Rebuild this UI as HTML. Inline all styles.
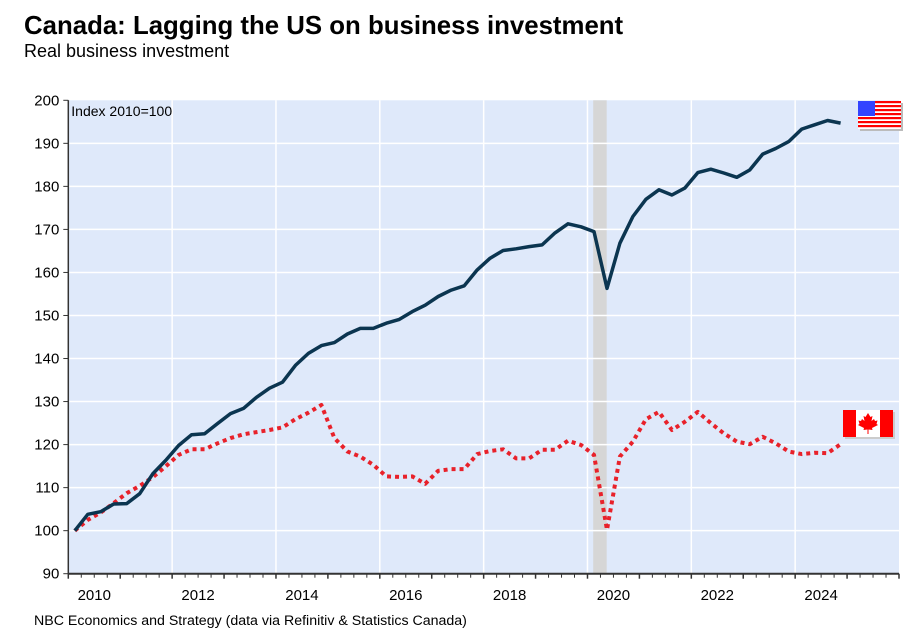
<!DOCTYPE html>
<html><head><meta charset="utf-8">
<style>
body{margin:0;background:#fff;font-family:"Liberation Sans",Arial,sans-serif;}
svg{display:block}
</style></head>
<body>
<svg id="chart" width="912" height="635" xmlns="http://www.w3.org/2000/svg">
<text x="24" y="34" font-size="25.8" font-weight="bold" fill="#000">Canada: Lagging the US on business investment</text>
<text x="24" y="57" font-size="18" fill="#000">Real business investment</text>
<text x="34" y="625" font-size="14.2" fill="#000">NBC Economics and Strategy (data via Refinitiv &amp; Statistics Canada)</text>
<g id="plot"></g>
</svg>
<script>
const usValues=[100,103.8,104.4,106.2,106.3,108.6,113.2,116.3,119.8,122.3,122.5,124.9,127.2,128.4,131,133.1,134.5,138.4,141.2,143,143.7,145.7,147,147,148.2,149.1,150.9,152.4,154.4,155.9,156.9,160.6,163.3,165.1,165.5,166,166.4,169.2,171.3,170.6,169.5,156.3,166.8,173,177,179.2,178,179.6,183.2,184,183.1,182.1,183.8,187.5,188.8,190.4,193.3,194.3,195.3,194.7];
const caValues=[100,102.5,104.2,106.4,108.7,110.4,112.4,114.9,117.6,118.9,118.9,120.3,121.5,122.4,122.9,123.4,124,125.9,127.4,129.2,121.5,118.4,117.2,115.3,112.6,112.5,112.6,110.9,113.9,114.3,114.3,117.8,118.5,118.9,116.8,116.8,118.8,118.8,120.9,119.9,117.6,100.2,117.2,120.7,125.9,127.6,123.4,125.3,127.6,125,122.6,120.7,120.1,121.8,120.3,118.4,117.8,118.1,118,120.1];
const yTicks=[90,100,110,120,130,140,150,160,170,180,190,200];
const xYearLabels=[2010,2012,2014,2016,2018,2020,2022,2024];
const recession=[2020.11,2020.37];
const startYear=2010;

const X0=68.3,X1=899,Y0=573.7,Y1=100.3;
const xS=t=>X0+(t-2010)*(X1-X0)/16;
const yS=v=>Y0-(v-90)*(Y0-Y1)/110;
const NS="http://www.w3.org/2000/svg";
const g=document.getElementById('plot');
function mk(tag,attrs){const e=document.createElementNS(NS,tag);for(const k in attrs)e.setAttribute(k,attrs[k]);g.appendChild(e);return e;}

const bg=mk('rect',{x:X0,y:Y1,width:X1-X0,height:Y0-Y1,fill:'#dfe9fa'});



const rec=mk('rect',{x:xS(recession[0]),y:Y1,width:xS(recession[1])-xS(recession[0]),height:Y0-Y1,fill:'#d6d6d6'});



yTicks.forEach(v=>{
  if(v>90&&v<200){const l=mk('line',{x1:X0,x2:X1,y1:yS(v),y2:yS(v),stroke:'#fff','stroke-width':1.5});
  
  }
  const tk=mk('line',{x1:X0-5,x2:X0,y1:yS(v),y2:yS(v),stroke:'#333','stroke-width':1});
  
  
  const t=mk('text',{x:X0-9,y:yS(v)+5,'font-size':15,'text-anchor':'end',fill:'#000'});
  t.textContent=v;
  
  
});
for(let y=2012;y<2026;y+=2){
  const l=mk('line',{x1:xS(y),x2:xS(y),y1:Y1,y2:Y0,stroke:'#fff','stroke-width':1.5});
  
  
}
for(let q=0;q<=64;q++){
  const x=xS(2010+q/4);const major=q%4===0;
  const tk=mk('line',{x1:x,x2:x,y1:Y0,y2:Y0+(major?5:4),stroke:'#333','stroke-width':major?1.5:1});
  
  
}
xYearLabels.forEach(y=>{
  const t=mk('text',{x:xS(y+0.5),y:600,'font-size':15,'text-anchor':'middle',fill:'#000'});
  t.textContent=y;
  
  
});
const ax=mk('line',{x1:X0,x2:X1,y1:Y0,y2:Y0,stroke:'#333','stroke-width':2});


const ay=mk('line',{x1:X0,x2:X0,y1:Y1,y2:Y0,stroke:'#333','stroke-width':1.5});



const it=mk('text',{x:X0+3,y:116,'font-size':14,fill:'#000'});
it.textContent='Index 2010=100';



const pts=arr=>arr.map((v,i)=>xS(startYear+(i+0.5)/4).toFixed(1)+','+yS(v).toFixed(1)).join(' ');
const ca=mk('polyline',{points:pts(caValues),fill:'none',stroke:'#e8212a','stroke-width':4,'stroke-dasharray':'4,4','stroke-linejoin':'round'});


const us=mk('polyline',{points:pts(usValues),fill:'none',stroke:'#0b3550','stroke-width':3.5,'stroke-linejoin':'round'});



// US flag
const uf=mk('g',{});


let s='<rect x="860" y="103" width="43" height="28" fill="#bbb"/><rect x="858" y="101" width="43" height="28" fill="#fff"/>';
for(let i=0;i<7;i++)s+=`<rect x="858" y="${101+i*4}" width="43" height="2.2" fill="#f00"/>`;
s+='<rect x="858" y="101" width="17" height="15" fill="#3344ff"/>';
uf.innerHTML=s;
// Canada flag
const cf=mk('g',{});


cf.innerHTML='<rect x="845" y="412" width="50" height="27" fill="#ccc"/><rect x="843" y="410" width="50" height="27" fill="#fff"/><rect x="843" y="410" width="13" height="27" fill="#f00"/><rect x="880" y="410" width="13" height="27" fill="#f00"/><path d="M868 413 L870.5 417 L872.5 416 L871.5 421 L874 419 L875 421 L877.5 420.5 L876.5 424 L878 425 L872 428 L872.5 430 L868.5 429.5 L868.5 434 L867.5 434 L867.5 429.5 L863.5 430 L864 428 L858 425 L859.5 424 L858.5 420.5 L861 421 L862 419 L864.5 421 L863.5 416 L865.5 417 Z" fill="#f00"/>';
</script>
</body></html>
